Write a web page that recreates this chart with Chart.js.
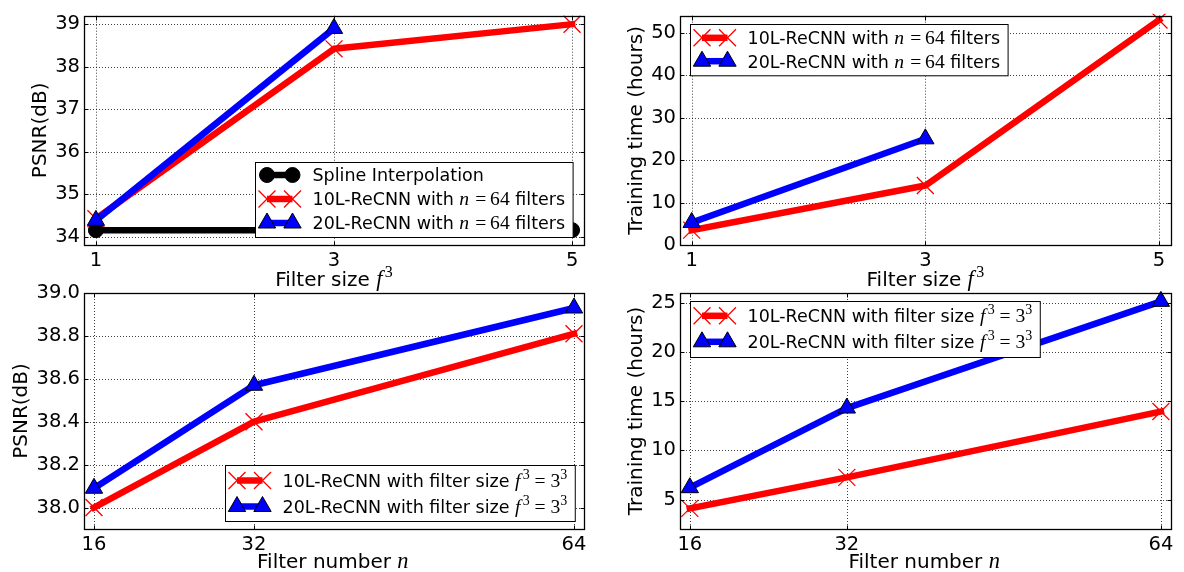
<!DOCTYPE html>
<html><head><meta charset="utf-8">
<script src="https://cdn.jsdelivr.net/npm/chart.js@4/dist/chart.umd.min.js"></script>
<style>
html,body{margin:0;padding:0;background:#fff;}
#wrap{position:relative;width:1184px;height:572px;overflow:hidden;}
#wrap canvas{position:absolute;left:0;top:0;}
</style></head><body>
<div id="wrap">
<canvas id="cTL" width="1184" height="572"></canvas>
<canvas id="cTR" width="1184" height="572"></canvas>
<canvas id="cBL" width="1184" height="572"></canvas>
<canvas id="cBR" width="1184" height="572"></canvas>
</div>
<script>
// ---------- data ----------
const filterSizes = [1, 3, 5];
const filterNumbers = [16, 32, 64];

const splinePSNR = [34.15, 34.15, 34.15];
const psnr10L_bySize = [34.42, 38.42, 39.0];
const psnr20L_bySize = [34.38, 38.9];
const time10L_bySize = [3.5, 14.0, 53.0];
const time20L_bySize = [5.3, 25.0];

const psnr10L_byNum = [38.0, 38.4, 38.81];
const psnr20L_byNum = [38.09, 38.57, 38.93];
const time10L_byNum = [4.1, 7.25, 13.95];
const time20L_byNum = [6.2, 14.3, 25.15];

const xTicksSize = [1, 3, 5];
const xTicksNum = [16, 32, 64];
const yTicksPsnrSize = [34, 35, 36, 37, 38, 39];
const yTicksTimeSize = [0, 10, 20, 30, 40, 50];
const yTicksPsnrNum = [38.0, 38.2, 38.4, 38.6, 38.8, 39.0];
const yLabelsPsnrNum = ['38.0', '38.2', '38.4', '38.6', '38.8', '39.0'];
const yTicksTimeNum = [5, 10, 15, 20, 25];

// ---------- text helpers ----------
const SANS = '"DejaVu Sans", sans-serif';
const SERIF = '"Liberation Serif", "DejaVu Serif", serif';
function segFont(kind, size) {
  if (kind === 's') return size + 'px ' + SANS;
  if (kind === 'mi') return 'italic ' + (size * 1.12) + 'px ' + SERIF;
  if (kind === 'mr') return (size * 1.12) + 'px ' + SERIF;
  return (size * 0.8) + 'px ' + SERIF; // sup
}
function segAdvance(ctx, k, t, size) {
  ctx.font = segFont(k, size);
  let w = ctx.measureText(t).width;
  if (k === 'mi') w += size * 0.12; // italic overhang
  return w;
}
function richWidth(ctx, segs, size) {
  let w = 0;
  for (const [k, t] of segs) w += segAdvance(ctx, k, t, size);
  return w;
}
function drawRich(ctx, segs, x, y, size) {
  ctx.textAlign = 'left'; ctx.textBaseline = 'alphabetic'; ctx.fillStyle = '#000';
  for (const [k, t] of segs) {
    ctx.font = segFont(k, size);
    const dy = k === 'sup' ? -size * 0.45 : 0;
    ctx.fillText(t, x, y + dy);
    x += segAdvance(ctx, k, t, size);
  }
}

// ---------- decoration plugin (grid, frame, legend, axis titles) ----------
const mplDeco = {
  id: 'mplDeco',
  beforeDatasetsDraw(chart, args, o) {
    const ctx = chart.ctx, a = chart.chartArea, xs = chart.scales.x, ys = chart.scales.y;
    ctx.save();
    ctx.strokeStyle = 'rgba(0,0,0,0.75)'; ctx.lineWidth = 1; ctx.setLineDash([1, 2]);
    for (const v of o.xTicks) {
      const p = Math.round(xs.getPixelForValue(v)) + 0.5;
      ctx.beginPath(); ctx.moveTo(p, a.top); ctx.lineTo(p, a.bottom); ctx.stroke();
    }
    for (const v of o.yTicks) {
      const p = Math.round(ys.getPixelForValue(v)) + 0.5;
      ctx.beginPath(); ctx.moveTo(a.left, p); ctx.lineTo(a.right, p); ctx.stroke();
    }
    ctx.restore();
  },
  afterDraw(chart, args, o) {
    const ctx = chart.ctx, a = chart.chartArea, xs = chart.scales.x, ys = chart.scales.y;
    ctx.save();
    // frame
    ctx.strokeStyle = '#000'; ctx.lineWidth = 1.3; ctx.setLineDash([]);
    const L = Math.round(a.left) + 0.5, R = Math.round(a.right) + 0.5, T = Math.round(a.top) + 0.5, B = Math.round(a.bottom) + 0.5;
    ctx.strokeRect(L, T, R - L, B - T);
    // inward ticks
    ctx.lineWidth = 1;
    for (const v of o.xTicks) {
      const p = Math.round(xs.getPixelForValue(v)) + 0.5;
      ctx.beginPath(); ctx.moveTo(p, B); ctx.lineTo(p, B - 4); ctx.moveTo(p, T); ctx.lineTo(p, T + 4); ctx.stroke();
    }
    for (const v of o.yTicks) {
      const p = Math.round(ys.getPixelForValue(v)) + 0.5;
      ctx.beginPath(); ctx.moveTo(L, p); ctx.lineTo(L + 4, p); ctx.moveTo(R, p); ctx.lineTo(R - 4, p); ctx.stroke();
    }
    // legend
    const lg = o.legend, fs = lg.fontSize;
    let tw = 0;
    for (const segs of lg.items) tw = Math.max(tw, richWidth(ctx, segs, fs));
    const bw = 57 + tw + 8;
    const bh = lg.padTop + (lg.items.length - 1) * lg.spacing + lg.padBottom;
    let bx, by;
    if (lg.corner === 'lr') { bx = a.right - lg.dx - bw; by = a.bottom - lg.dy - bh; }
    else { bx = a.left + lg.dx; by = a.top + lg.dy; }
    bx = Math.round(bx) + 0.5; by = Math.round(by) + 0.5;
    ctx.fillStyle = '#fff'; ctx.fillRect(bx, by, bw, bh);
    ctx.strokeStyle = '#000'; ctx.lineWidth = 1; ctx.strokeRect(bx, by, bw, bh);
    const dsets = chart.data.datasets;
    lg.items.forEach((segs, i) => {
      const ds = dsets[i];
      const ry = by + lg.padTop + i * lg.spacing;
      const m1 = bx + 11.5, m2 = bx + 37;
      ctx.strokeStyle = ds.borderColor; ctx.lineWidth = ds.borderWidth; ctx.lineCap = 'butt';
      ctx.beginPath(); ctx.moveTo(m1, ry); ctx.lineTo(m2, ry); ctx.stroke();
      for (const mx of [m1, m2]) {
        ctx.fillStyle = ds.pointBackgroundColor; ctx.strokeStyle = ds.pointBorderColor; ctx.lineWidth = ds.pointBorderWidth;
        Chart.helpers.drawPoint(ctx, { pointStyle: ds.pointStyle, radius: ds.pointRadius, rotation: 0, borderWidth: ds.pointBorderWidth }, mx, ry);
      }
      drawRich(ctx, segs, bx + 57, ry + fs * 0.36, fs);
    });
    // x title
    const xt = o.xTitle;
    const xw = richWidth(ctx, xt.segs, xt.size);
    drawRich(ctx, xt.segs, (a.left + a.right) / 2 - xw / 2, xt.baseline, xt.size);
    // y title
    const yt = o.yTitle;
    ctx.translate(yt.baselineX, (a.top + a.bottom) / 2);
    ctx.rotate(-Math.PI / 2);
    ctx.font = yt.size + 'px ' + SANS; ctx.fillStyle = '#000';
    ctx.textAlign = 'center'; ctx.textBaseline = 'alphabetic';
    ctx.fillText(yt.text, 0, 0);
    ctx.restore();
  }
};

// ---------- series styles ----------
function series(kind, xs, ys) {
  const data = ys.map((v, i) => ({ x: xs[i], y: v }));
  const base = { data, borderWidth: 6.5, borderJoinStyle: 'round', borderCapStyle: 'square', tension: 0, fill: false, clip: 2 };
  if (kind === 'spline') return Object.assign(base, { borderColor: '#000', pointStyle: 'circle', pointRadius: 7.5, pointBackgroundColor: '#000', pointBorderColor: '#000', pointBorderWidth: 1, order: 3 });
  if (kind === 'red') return Object.assign(base, { borderColor: '#ff0000', pointStyle: 'crossRot', pointRadius: 12, pointBackgroundColor: '#ff0000', pointBorderColor: '#ff0000', pointBorderWidth: 1.3, order: 2 });
  return Object.assign(base, { borderColor: '#0000ff', pointStyle: 'triangle', pointRadius: 10, pointBackgroundColor: '#0000ff', pointBorderColor: '#000', pointBorderWidth: 1, order: 1 });
}

const TICK_FONT = { family: SANS, size: 19.5 };
function makeChart(id, area, datasets, xr, yr, xTicks, yTicks, yLabels, deco) {
  const W = 1184, H = 572;
  new Chart(document.getElementById(id), {
    type: 'line',
    data: { datasets },
    options: {
      responsive: false, animation: false, events: [],
      layout: { padding: { left: 0, top: area.T, right: W - area.R, bottom: 0 } },
      plugins: { legend: { display: false }, tooltip: { enabled: false }, mplDeco: deco },
      scales: {
        x: {
          type: 'linear', min: xr[0], max: xr[1],
          grid: { display: false, drawTicks: false }, border: { display: false },
          afterBuildTicks: s => { s.ticks = xTicks.map(v => ({ value: v })); },
          afterFit: s => { s.height = H - area.B; },
          ticks: { autoSkip: false, maxRotation: 0, padding: 4, color: '#000', font: TICK_FONT, callback: v => String(v) }
        },
        y: {
          type: 'linear', min: yr[0], max: yr[1],
          grid: { display: false, drawTicks: false }, border: { display: false },
          afterBuildTicks: s => { s.ticks = yTicks.map(v => ({ value: v })); },
          afterFit: s => { s.width = area.L; },
          ticks: { autoSkip: false, padding: 4, color: '#000', font: TICK_FONT,
                   callback: (v) => { const i = yTicks.indexOf(v); return yLabels ? yLabels[i] : String(v); } }
        }
      }
    },
    plugins: [mplDeco]
  });
}

const segN64_10 = [['s', '10L-ReCNN with '], ['mi', 'n'], ['mr', '\u2009=\u2009'], ['mr', '64'], ['s', ' filters']];
const segN64_20 = [['s', '20L-ReCNN with '], ['mi', 'n'], ['mr', '\u2009=\u2009'], ['mr', '64'], ['s', ' filters']];
const segF3_10 = [['s', '10L-ReCNN with filter size '], ['mi', 'f'], ['sup', '3'], ['mr', '\u2005=\u2005'], ['mr', '3'], ['sup', '3']];
const segF3_20 = [['s', '20L-ReCNN with filter size '], ['mi', 'f'], ['sup', '3'], ['mr', '\u2005=\u2005'], ['mr', '3'], ['sup', '3']];
const xTitleSize = [['s', 'Filter size '], ['mi', 'f'], ['sup', '3']];
const xTitleNum = [['s', 'Filter number '], ['mi', 'n']];
const LEG_FS = 17.5, TITLE_FS = 20;

// Top-left
makeChart('cTL', { L: 84, T: 8, R: 584, B: 245 },
  [series('spline', filterSizes, splinePSNR), series('red', filterSizes, psnr10L_bySize), series('blue', filterSizes, psnr20L_bySize)],
  [0.9, 5.1], [33.8, 39.2], xTicksSize, yTicksPsnrSize, null,
  { xTicks: xTicksSize, yTicks: yTicksPsnrSize,
    legend: { corner: 'lr', dx: 11, dy: 8, spacing: 24, padTop: 12.5, padBottom: 14.5, fontSize: LEG_FS,
              items: [[['s', 'Spline Interpolation']], segN64_10, segN64_20] },
    xTitle: { segs: xTitleSize, baseline: 286, size: TITLE_FS },
    yTitle: { text: 'PSNR(dB)', baselineX: 45.5, size: TITLE_FS } });

// Top-right
makeChart('cTR', { L: 680, T: 8, R: 1180, B: 245 },
  [series('red', filterSizes, time10L_bySize), series('blue', filterSizes, time20L_bySize)],
  [0.9, 5.1], [0, 54], xTicksSize, yTicksTimeSize, null,
  { xTicks: xTicksSize, yTicks: yTicksTimeSize,
    legend: { corner: 'ul', dx: 10, dy: 8, spacing: 23.4, padTop: 13.3, padBottom: 14.6, fontSize: LEG_FS,
              items: [segN64_10, segN64_20] },
    xTitle: { segs: xTitleSize, baseline: 286, size: TITLE_FS },
    yTitle: { text: 'Training time (hours)', baselineX: 642, size: TITLE_FS } });

// Bottom-left
makeChart('cBL', { L: 84, T: 293, R: 584, B: 529 },
  [series('red', filterNumbers, psnr10L_byNum), series('blue', filterNumbers, psnr20L_byNum)],
  [15, 65], [37.9, 39.0], xTicksNum, yTicksPsnrNum, yLabelsPsnrNum,
  { xTicks: xTicksNum, yTicks: yTicksPsnrNum,
    legend: { corner: 'lr', dx: 9, dy: 8, spacing: 26, padTop: 15, padBottom: 15, fontSize: LEG_FS,
              items: [segF3_10, segF3_20] },
    xTitle: { segs: xTitleNum, baseline: 568, size: TITLE_FS },
    yTitle: { text: 'PSNR(dB)', baselineX: 26.5, size: TITLE_FS } });

// Bottom-right
makeChart('cBR', { L: 680, T: 293, R: 1180, B: 529 },
  [series('red', filterNumbers, time10L_byNum), series('blue', filterNumbers, time20L_byNum)],
  [15, 65], [2, 26], xTicksNum, yTicksTimeNum, null,
  { xTicks: xTicksNum, yTicks: yTicksTimeNum,
    legend: { corner: 'ul', dx: 10, dy: 8, spacing: 26, padTop: 14.3, padBottom: 15.7, fontSize: LEG_FS,
              items: [segF3_10, segF3_20] },
    xTitle: { segs: xTitleNum, baseline: 568, size: TITLE_FS },
    yTitle: { text: 'Training time (hours)', baselineX: 642, size: TITLE_FS } });
</script>
</body></html>
